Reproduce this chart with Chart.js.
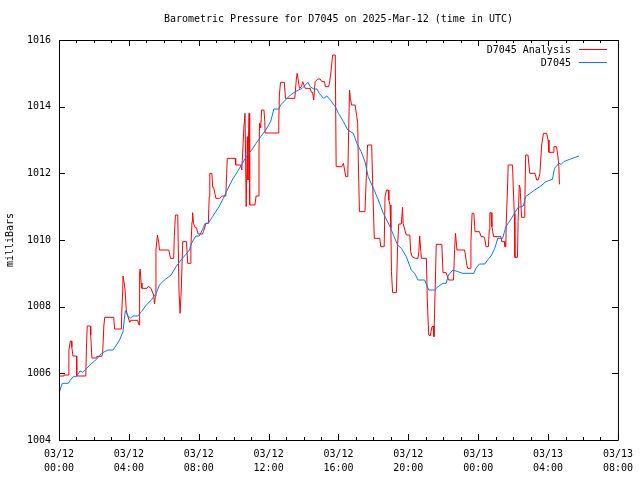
<!DOCTYPE html>
<html>
<head>
<meta charset="utf-8">
<script src="https://cdn.jsdelivr.net/npm/chart.js@4.4.1/dist/chart.umd.min.js"></script>
<style>
  body { margin: 0; background: #fff; }
  canvas { display: block; }
</style>
</head>
<body>
<canvas id="pressureChart" width="640" height="480"></canvas>
<script>
const chartTitle = 'Barometric Pressure for D7045 on 2025-Mar-12 (time in UTC)';
const seriesNames = ['D7045 Analysis', 'D7045'];
const yAxisTitle = 'milliBars';

// x axis: minutes after 03/12 00:00 UTC, labelled every 4 hours
const dayLabels = ['03/12', '03/12', '03/12', '03/12', '03/12', '03/12', '03/13', '03/13', '03/13'];
const timeLabels = ['00:00', '04:00', '08:00', '12:00', '16:00', '20:00', '00:00', '04:00', '08:00'];
const yTicks = [1004, 1006, 1008, 1010, 1012, 1014, 1016];

// analysis (red)
const analysisMin = [
  0, 17, 17, 31, 34, 39, 43, 44, 48, 60,
  61, 92, 94, 97, 108, 109, 113, 128, 130, 147,
  150, 154, 157, 188, 191, 214, 215, 219, 220, 224,
  227, 231, 234, 243, 246, 270, 275, 277, 279, 282,
  285, 302, 307, 316, 325, 328, 331, 333, 338, 343,
  345, 377, 383, 394, 396, 400, 408, 412, 416, 418,
  420, 425, 438, 442, 450, 453, 457, 459, 462, 468,
  472, 478, 493, 496, 505, 513, 516, 518, 525, 528,
  531, 533, 539, 552, 561, 573, 576, 578, 605, 607,
  624, 628, 635, 639, 641, 643, 647, 649, 650, 653,
  655, 673, 677, 684, 687, 689, 693, 696, 704, 707,
  708, 753, 755, 757, 761, 774, 778, 810,
  815, 818, 821, 826, 833, 837, 846, 863, 867, 871,
  875, 878, 880, 889, 897, 903, 912, 915, 926, 929,
  933, 940, 949, 952, 971, 977, 981, 985, 992, 994,
  998, 1001, 1005, 1017, 1023, 1026, 1028, 1032, 1051, 1057,
  1060, 1074, 1080, 1083, 1102, 1105, 1117, 1120, 1125, 1131,
  1133, 1137, 1140, 1142, 1146, 1159, 1163, 1167, 1176, 1180,
  1182, 1188, 1193, 1205, 1208, 1213, 1224, 1233, 1236, 1239,
  1243, 1245, 1262, 1265, 1270, 1275, 1281, 1285, 1288, 1290,
  1296, 1315, 1319, 1330, 1338, 1355, 1359, 1362, 1367, 1393,
  1395, 1401, 1404, 1413, 1415, 1419, 1425, 1429, 1444, 1450,
  1459, 1462, 1467, 1475, 1478, 1480, 1484, 1487, 1490, 1493,
  1518, 1521, 1530, 1532, 1535, 1536, 1541, 1543, 1558, 1560,
  1564, 1566, 1575, 1577, 1581, 1584, 1589, 1598, 1600, 1603,
  1611, 1617, 1635, 1641, 1646, 1652, 1658, 1664, 1675, 1680,
  1683, 1697, 1700, 1709, 1714, 1717, 1719
];
const analysisVal = [
  1005.92, 1005.92, 1005.95, 1005.95, 1006.70, 1006.97, 1006.97, 1006.79, 1006.52, 1006.52,
  1005.92, 1005.92, 1006.70, 1007.42, 1007.42, 1007.15, 1006.46, 1006.46, 1006.51, 1006.51,
  1006.61, 1007.42, 1007.68, 1007.68, 1007.33, 1007.33, 1007.71, 1008.50, 1008.92, 1008.71,
  1008.50, 1007.90, 1007.78, 1007.53, 1007.59, 1007.59, 1007.45, 1009.01, 1009.13, 1008.71,
  1008.55, 1008.55, 1008.61, 1008.55, 1008.35, 1008.08, 1008.31, 1009.70, 1010.15, 1009.91,
  1009.70, 1009.70, 1009.45, 1009.45, 1010.10, 1010.75, 1010.75, 1008.50, 1007.80, 1007.80,
  1008.50, 1009.95, 1009.95, 1009.30, 1009.30, 1009.80, 1010.55, 1010.82, 1010.50, 1010.37,
  1010.37, 1010.18, 1010.18, 1010.25, 1010.50, 1010.50, 1011.30, 1012.00, 1012.00, 1011.58,
  1011.58, 1011.50, 1011.25, 1011.25, 1011.32, 1011.32, 1012.00, 1012.45, 1012.45, 1012.25,
  1012.25, 1012.10, 1013.35, 1013.80, 1013.80, 1011.00, 1013.10, 1011.80, 1012.70, 1013.80,
  1011.05, 1011.05, 1011.32, 1011.32, 1012.70, 1013.50, 1013.36, 1013.90, 1013.90, 1013.55,
  1013.21, 1013.21, 1013.51, 1014.35, 1014.73, 1014.73, 1014.25, 1014.25,
  1014.80, 1015.00, 1014.85, 1014.55, 1014.60, 1014.75, 1014.55, 1014.55, 1014.43, 1014.43,
  1014.20, 1014.56, 1014.75, 1014.83, 1014.83, 1014.75, 1014.75, 1014.60, 1014.60, 1014.70,
  1014.95, 1015.55, 1015.55, 1012.20, 1012.20, 1012.30, 1012.10, 1011.90, 1011.90, 1012.85,
  1014.50, 1014.25, 1014.05, 1014.05, 1013.70, 1013.50, 1012.40, 1010.85, 1010.85, 1012.20,
  1012.85, 1012.85, 1010.90, 1010.05, 1010.05, 1009.80, 1009.80, 1011.30, 1011.50, 1011.50,
  1011.20, 1011.05, 1010.35, 1009.05, 1008.42, 1008.42, 1009.80, 1010.48, 1010.48, 1010.98,
  1010.50, 1010.30, 1010.15, 1010.15, 1009.65, 1009.50, 1009.45, 1009.45, 1009.65, 1010.12,
  1009.65, 1009.45, 1009.45, 1008.20, 1007.15, 1007.12, 1007.39, 1007.42, 1007.10, 1007.80,
  1009.87, 1009.87, 1009.02, 1009.02, 1008.80, 1008.80, 1009.72, 1010.20, 1009.70, 1009.70,
  1009.61, 1009.25, 1009.15, 1009.15, 1009.95, 1010.80, 1010.80, 1010.25, 1010.25, 1010.10,
  1010.10, 1010.05, 1009.80, 1009.80, 1010.30, 1010.82, 1010.82, 1010.40, 1010.25, 1010.10,
  1010.10, 1009.95, 1009.95, 1009.80, 1009.80, 1010.45, 1011.65, 1012.25, 1012.25, 1011.65,
  1010.80, 1009.48, 1009.48, 1010.55, 1011.65, 1011.56, 1010.68, 1010.68, 1011.00, 1012.55,
  1012.55, 1012.00, 1012.00, 1011.80, 1011.80, 1012.00, 1012.85, 1013.20, 1013.20, 1013.00,
  1012.63, 1012.63, 1012.80, 1012.80, 1012.50, 1012.20, 1011.67
];

// station observations (blue)
const stationMin = [
  0, 11, 32, 39, 49, 60, 72, 82, 95, 112,
  129, 146, 168, 186, 197, 208, 220, 224, 228, 237,
  246, 254, 271, 283, 300, 317, 334, 345, 362, 385,
  402, 419, 434, 448, 455, 470, 482, 492, 502, 513,
  527, 550, 567, 578, 595, 613, 630, 643, 662, 677,
  693, 710, 727, 738, 755, 761, 778, 795, 812, 823,
  835, 846, 855, 863, 875, 886, 894, 909, 920, 932,
  949, 960, 977, 992, 1011, 1023, 1038, 1051, 1062, 1080,
  1097, 1114, 1137, 1163, 1176, 1193, 1210, 1222, 1233, 1256,
  1270, 1290, 1302, 1319, 1330, 1338, 1353, 1370, 1387, 1425,
  1432, 1444, 1463, 1472, 1484, 1497, 1507, 1524, 1535, 1547,
  1561, 1577, 1595, 1603, 1615, 1634, 1655, 1672, 1695, 1702,
  1717, 1725, 1734, 1757, 1786
];
const stationVal = [
  1005.40, 1005.70, 1005.70, 1005.80, 1005.90, 1005.90, 1006.07, 1006.03, 1006.15, 1006.30,
  1006.42, 1006.60, 1006.70, 1006.70, 1006.85, 1007.00, 1007.25, 1007.60, 1007.88, 1007.72,
  1007.66, 1007.72, 1007.72, 1007.85, 1008.05, 1008.20, 1008.40, 1008.65, 1008.80, 1008.95,
  1009.20, 1009.40, 1009.55, 1009.70, 1009.90, 1010.12, 1010.12, 1010.30, 1010.50, 1010.50,
  1010.70, 1011.00, 1011.30, 1011.50, 1011.80, 1012.05, 1012.30, 1012.50, 1012.70, 1012.90,
  1013.10, 1013.30, 1013.55, 1013.93, 1013.93, 1014.05, 1014.20, 1014.35, 1014.45, 1014.50,
  1014.55, 1014.65, 1014.73, 1014.60, 1014.53, 1014.53, 1014.40, 1014.25, 1014.32, 1014.20,
  1014.00, 1013.80, 1013.55, 1013.30, 1013.20, 1012.90, 1012.65, 1012.35, 1011.90, 1011.55,
  1011.20, 1010.80, 1010.40, 1009.85, 1009.75, 1009.50, 1009.10, 1009.00, 1008.80, 1008.80,
  1008.50, 1008.50, 1008.60, 1008.70, 1008.70, 1008.95, 1009.10, 1009.05, 1009.00, 1009.00,
  1009.15, 1009.28, 1009.28, 1009.40, 1009.52, 1009.75, 1010.05, 1010.05, 1010.40, 1010.55,
  1010.75, 1010.98, 1011.02, 1011.30, 1011.38, 1011.50, 1011.62, 1011.75, 1011.82, 1012.15,
  1012.30, 1012.27, 1012.35, 1012.43, 1012.52
];

const FONT_FAMILY = '"DejaVu Sans Mono", "Liberation Mono", monospace';
const FONT_SIZE = 10;

function toPoints(xs, ys) {
  return xs.map((m, i) => ({ x: m, y: ys[i] }));
}

// one x tick per hour, labelled every 4 hours
const hourTicks = [];
for (let m = 0; m <= 32 * 60; m += 60) hourTicks.push(m);

// gnuplot-like box, inward ticks, title and legend
const gnuplotFrame = {
  id: 'gnuplotFrame',
  afterDraw(chart) {
    const { ctx, chartArea: a } = chart;
    const xs = chart.scales.x, ys = chart.scales.y;
    ctx.save();
    ctx.strokeStyle = '#000';
    ctx.lineWidth = 1;
    ctx.beginPath();
    ctx.rect(a.left + 0.5, a.top + 0.5, a.right - a.left, a.bottom - a.top);
    xs.ticks.forEach(t => {
      const px = Math.round(xs.getPixelForValue(t.value)) + 0.5;
      const len = t.value % 240 === 0 ? 6 : 3;
      ctx.moveTo(px, a.bottom);
      ctx.lineTo(px, a.bottom - len);
      ctx.moveTo(px, a.top);
      ctx.lineTo(px, a.top + len);
    });
    ys.ticks.forEach(t => {
      const py = Math.round(ys.getPixelForValue(t.value)) + 0.5;
      ctx.moveTo(a.left, py);
      ctx.lineTo(a.left + 6, py);
      ctx.moveTo(a.right, py);
      ctx.lineTo(a.right - 6, py);
    });
    ctx.stroke();

    ctx.fillStyle = '#000';
    ctx.font = FONT_SIZE + 'px ' + FONT_FAMILY;
    ctx.textBaseline = 'middle';
    ctx.textAlign = 'center';
    ctx.fillText(chartTitle, (a.left + a.right) / 2, 19);

    chart.data.datasets.forEach((ds, i) => {
      const ly = a.top + 9 + i * 13;
      ctx.textAlign = 'right';
      ctx.fillStyle = '#000';
      ctx.fillText(ds.label, a.right - 47, ly + 1);
      ctx.strokeStyle = ds.borderColor;
      ctx.beginPath();
      ctx.moveTo(a.right - 39, ly + 0.5);
      ctx.lineTo(a.right - 11, ly + 0.5);
      ctx.stroke();
    });
    ctx.restore();
  }
};

const ctx = document.getElementById('pressureChart').getContext('2d');
new Chart(ctx, {
  type: 'line',
  data: {
    datasets: [
      {
        label: seriesNames[0],
        data: toPoints(analysisMin, analysisVal),
        borderColor: '#ff0000',
        borderWidth: 1,
        pointRadius: 0,
        tension: 0,
        fill: false,
        order: 2
      },
      {
        label: seriesNames[1],
        data: toPoints(stationMin, stationVal),
        borderColor: '#0080ff',
        borderWidth: 1,
        pointRadius: 0,
        tension: 0,
        fill: false,
        order: 1
      }
    ]
  },
  options: {
    responsive: false,
    animation: false,
    layout: { padding: { top: 40, right: 19, left: 0, bottom: 0 } },
    plugins: {
      legend: { display: false },
      title: { display: false },
      tooltip: { enabled: false }
    },
    scales: {
      x: {
        type: 'linear',
        min: 0,
        max: 32 * 60,
        afterBuildTicks: s => { s.ticks = hourTicks.map(v => ({ value: v })); },
        afterFit: s => { s.height = 40; },
        grid: { display: false, drawTicks: false },
        border: { display: false },
        ticks: {
          autoSkip: false,
          maxRotation: 0,
          padding: 7,
          color: '#000',
          font: { family: FONT_FAMILY, size: FONT_SIZE, lineHeight: 1.4 },
          callback: v => v % 240 === 0 ? [dayLabels[v / 240], timeLabels[v / 240]] : ''
        }
      },
      y: {
        min: 1004,
        max: 1016,
        afterBuildTicks: s => { s.ticks = yTicks.map(v => ({ value: v })); },
        afterFit: s => { s.width = 59; },
        grid: { display: false, drawTicks: false },
        border: { display: false },
        ticks: {
          padding: 8,
          color: '#000',
          font: { family: FONT_FAMILY, size: FONT_SIZE },
          callback: v => String(v)
        },
        title: {
          display: true,
          text: yAxisTitle,
          color: '#000',
          font: { family: FONT_FAMILY, size: FONT_SIZE },
          padding: { top: 4, bottom: 0 }
        }
      }
    }
  },
  plugins: [gnuplotFrame]
});
</script>
</body>
</html>
